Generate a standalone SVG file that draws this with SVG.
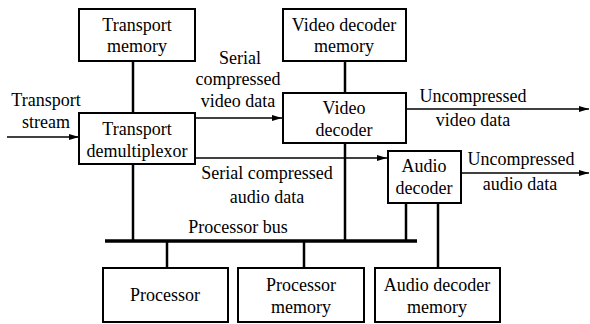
<svg xmlns="http://www.w3.org/2000/svg" width="590" height="324" viewBox="0 0 590 324" font-family="Liberation Serif, Times New Roman, Tinos, Noto Serif, DejaVu Serif, serif" font-size="18">
  <style>
    .box { fill: #fff; stroke: #000; stroke-width: 2; }
    text { fill: #000; text-anchor: middle; }
    .line { stroke: #000; stroke-width: 2.5; fill: none; }
    .bus { stroke: #000; stroke-width: 3.5; fill: none; }
    .arrow { stroke: #000; stroke-width: 1.5; fill: none; marker-end: url(#head); }
  </style>
  <defs>
    <marker id="head" viewBox="0 0 10 6" refX="10" refY="3" markerWidth="10" markerHeight="6" markerUnits="userSpaceOnUse" orient="auto">
      <path d="M0,0 L10,3 L0,6 Z" fill="#000"/>
    </marker>
  </defs>
  <rect width="590" height="324" fill="#fff"/>

  <!-- connectors: memory links, processor bus, data-flow arrows and their labels -->
  <g id="connectors">
    <line class="line" x1="133" y1="61" x2="133" y2="113"/>
    <line class="line" x1="345" y1="61" x2="345" y2="93"/>
    <line class="bus" x1="105" y1="241" x2="417" y2="241"/>
    <line class="line" x1="133" y1="164" x2="133" y2="241"/>
    <line class="line" x1="345" y1="143" x2="345" y2="241"/>
    <line class="line" x1="406" y1="203" x2="406" y2="241"/>
    <line class="line" x1="438" y1="203" x2="438" y2="268"/>
    <line class="line" x1="167" y1="241" x2="167" y2="268"/>
    <line class="line" x1="304" y1="241" x2="304" y2="268"/>
    <line class="arrow" x1="7" y1="137" x2="79" y2="137"/>
    <line class="arrow" x1="195" y1="118" x2="282" y2="118"/>
    <line class="arrow" x1="195" y1="158" x2="387" y2="158"/>
    <line class="arrow" x1="406" y1="109" x2="589" y2="109"/>
    <line class="arrow" x1="461" y1="173" x2="589" y2="173"/>
    <text x="46" y="106">Transport</text>
    <text x="46" y="128">stream</text>
    <text x="240" y="64">Serial</text>
    <text x="238" y="85">compressed</text>
    <text x="238" y="107">video data</text>
    <text x="473" y="102">Uncompressed</text>
    <text x="473" y="126">video data</text>
    <text x="267" y="179">Serial compressed</text>
    <text x="267" y="203">audio data</text>
    <text x="521" y="165">Uncompressed</text>
    <text x="520" y="190">audio data</text>
    <text x="238" y="233">Processor bus</text>
  </g>

  <g id="transport-memory">
    <rect class="box" x="79" y="9" width="116" height="52"/>
    <text x="137" y="31">Transport</text>
    <text x="137" y="52">memory</text>
  </g>
  <g id="transport-demux">
    <rect class="box" x="79" y="113" width="116" height="51"/>
    <text x="137" y="135">Transport</text>
    <text x="137" y="157">demultiplexor</text>
  </g>
  <g id="video-decoder-memory">
    <rect class="box" x="283" y="9" width="123" height="52"/>
    <text x="344" y="31">Video decoder</text>
    <text x="344" y="52">memory</text>
  </g>
  <g id="video-decoder">
    <rect class="box" x="283" y="93" width="123" height="50"/>
    <text x="344" y="114">Video</text>
    <text x="344" y="136">decoder</text>
  </g>
  <g id="audio-decoder">
    <rect class="box" x="388" y="151" width="73" height="52"/>
    <text x="424" y="172">Audio</text>
    <text x="424" y="194">decoder</text>
  </g>
  <g id="processor">
    <rect class="box" x="103" y="268" width="125" height="54"/>
    <text x="165" y="301">Processor</text>
  </g>
  <g id="processor-memory">
    <rect class="box" x="238" y="268" width="126" height="54"/>
    <text x="301" y="291">Processor</text>
    <text x="301" y="313">memory</text>
  </g>
  <g id="audio-decoder-memory">
    <rect class="box" x="375" y="268" width="125" height="54"/>
    <text x="437" y="291">Audio decoder</text>
    <text x="437" y="313">memory</text>
  </g>
</svg>
